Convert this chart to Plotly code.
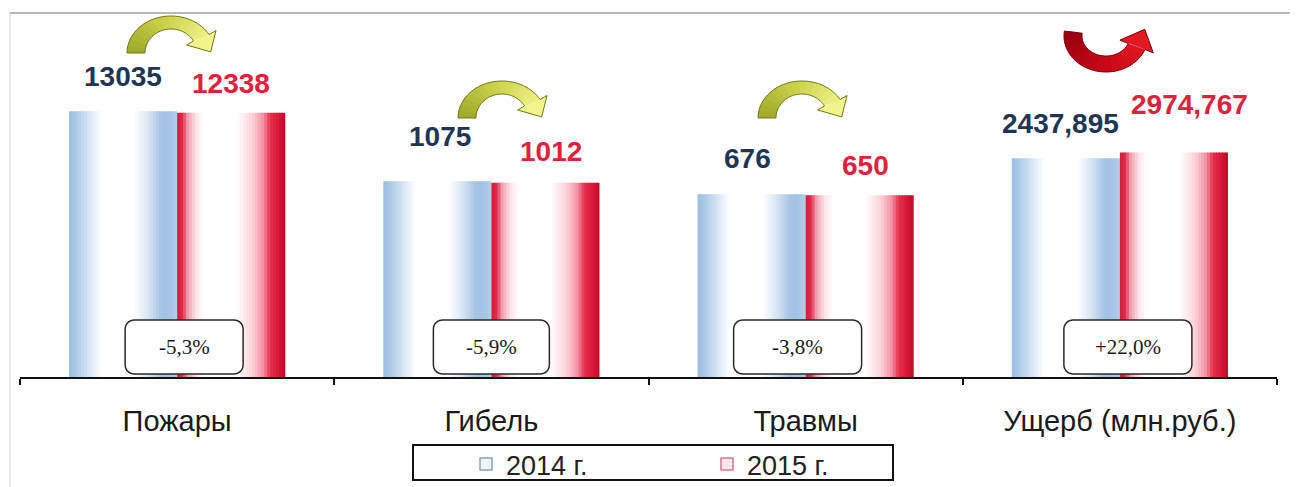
import plotly.graph_objects as go
import numpy as np

# --- data ---
categories = ["Пожары", "Гибель", "Травмы", "Ущерб (млн.руб.)"]
values_2014 = [13035, 1075, 676, 2437.895]
values_2015 = [12338, 1012, 650, 2974.767]
series_names = ["2014 г.", "2015 г."]

# --- page geometry ---
W, H = 1297, 487
L, R, T, B = 20, 20, 13, 110
PW, PH = W - L - R, H - T - B
PX_PER_DECADE = 64.6
BAR_W = 0.344
N_SLICES = 36

FONT = "Liberation Sans, Arial, sans-serif"
SERIF = "Liberation Serif, Times New Roman, serif"


def paper(px, py):
    return (px - L) / PW, (H - B - py) / PH


def cat_px(i):
    return L + (i + 0.5) * PW / len(categories)


def hex_rgb(h):
    h = h.lstrip("#")
    return [int(h[i:i + 2], 16) for i in (0, 2, 4)]


def blend(stops, t):
    for (p0, c0), (p1, c1) in zip(stops[:-1], stops[1:]):
        if p0 <= t <= p1:
            f = (t - p0) / (p1 - p0) if p1 > p0 else 0
            a, b = hex_rgb(c0), hex_rgb(c1)
            return "rgb({},{},{})".format(*[round(x + (y - x) * f) for x, y in zip(a, b)])
    return stops[-1][1]


# cylinder-like horizontal shading of each bar
stops_2014 = [(0.0, "#9cbde0"), (0.06, "#a9c8e7"), (0.2, "#dde9f6"), (0.3, "#ffffff"),
              (0.6, "#ffffff"), (0.74, "#d5e4f3"), (0.86, "#a3c3e4"), (0.95, "#a8c6e6"),
              (1.0, "#b6cfe9")]
stops_2015 = [(0.0, "#d01e3a"), (0.05, "#de2c4a"), (0.1, "#f2a2b2"), (0.18, "#fde6eb"),
              (0.25, "#ffffff"), (0.55, "#ffffff"), (0.7, "#fbd0d8"), (0.8, "#f48ea2"),
              (0.86, "#e6304c"), (0.95, "#d61434"), (1.0, "#bf0b27")]

fig = go.Figure()

sw = BAR_W / N_SLICES
for name, vals, stops, start in [(series_names[0], values_2014, stops_2014, -BAR_W),
                                 (series_names[1], values_2015, stops_2015, 0.0)]:
    for k in range(N_SLICES):
        fig.add_trace(go.Bar(
            x=categories, y=vals,
            width=sw * (1.3 if k < N_SLICES - 1 else 1.0),
            offset=start + k * sw,
            marker=dict(color=blend(stops, (k + 0.5) / N_SLICES), line=dict(width=0)),
            legendgroup=name, showlegend=False,
            hovertemplate="%{x}: %{y}<extra>" + name + "</extra>",
        ))

# legend-only entries
fig.add_trace(go.Bar(x=[None], y=[None], name=series_names[0], legendgroup=series_names[0],
                     marker=dict(color="#eef4fa", line=dict(color="#8fa4bf", width=1.5))))
fig.add_trace(go.Bar(x=[None], y=[None], name=series_names[1], legendgroup=series_names[1],
                     marker=dict(color="#fbe6ea", line=dict(color="#d9798c", width=1.5))))

# value labels
VAL_DX = [[0, 3, -4, -5], [0, 6, 6, 16]]
VAL_DY = [[35, 45, 36, 35], [29, 31, 30, 48]]
VAL_COLORS = ["#1f3556", "#e0203c"]
annotations = []
for s, vals in enumerate([values_2014, values_2015]):
    for i, v in enumerate(vals):
        annotations.append(dict(
            x=i + (-BAR_W / 2 if s == 0 else BAR_W / 2), y=np.log10(v),
            xref="x", yref="y", text=str(v).replace(".", ","), showarrow=False,
            xshift=VAL_DX[s][i], yshift=VAL_DY[s][i], xanchor="center", yanchor="middle",
            font=dict(family=FONT, size=28, color=VAL_COLORS[s], weight="bold"),
        ))

shapes = []


def path_str(pts):
    out = []
    for j, (px, py) in enumerate(pts):
        xf, yf = paper(px, py)
        out.append(("M" if j == 0 else "L") + f"{xf:.5f},{yf:.5f}")
    return " ".join(out) + " Z"


def rounded_rect(x0, y0, x1, y1, r):
    pts = []
    for cx, cy, a0 in [(x1 - r, y0 + r, -90), (x1 - r, y1 - r, 0), (x0 + r, y1 - r, 90), (x0 + r, y0 + r, 180)]:
        for a in np.linspace(a0, a0 + 90, 6):
            pts.append((cx + r * np.cos(np.radians(a)), cy + r * np.sin(np.radians(a))))
    return pts


# percentage change boxes
PCT_DX = [7, 0, -8, 8]
PCT_W = [118, 116, 128, 128]
for i, (a, b) in enumerate(zip(values_2014, values_2015)):
    pct = (b - a) / a * 100
    cx = cat_px(i) + PCT_DX[i]
    x0, x1, y0, y1 = cx - PCT_W[i] / 2, cx + PCT_W[i] / 2, 320, 374
    shapes.append(dict(type="path", xref="paper", yref="paper", path=path_str(rounded_rect(x0, y0, x1, y1, 9)),
                       fillcolor="white", line=dict(color="#2a2a2a", width=1.5)))
    xf, yf = paper(cx, (y0 + y1) / 2)
    annotations.append(dict(x=xf, y=yf, xref="paper", yref="paper", showarrow=False,
                            xanchor="center", yanchor="middle",
                            text=f"{pct:+.1f}%".replace(".", ","),
                            font=dict(family=SERIF, size=21, color="#1a1a1a")))


def arc_arrow(cx, cy, ao, bo, ai, bi, th0, th1, head_out, head_len, colors, outline, nseg=14):
    def pt(th, a, b):
        t = np.radians(th)
        return cx + a * np.cos(t), cy - b * np.sin(t)

    ths = np.linspace(th0, th1, nseg + 1)
    cols = [blend(colors, (j + 0.5) / (nseg + 1)) for j in range(nseg)]
    step = (th1 - th0) / nseg
    for j in range(nseg):
        t0, t1 = ths[j], ths[j + 1] + (0.3 * step if j < nseg - 1 else 0)
        sub = np.linspace(t0, t1, 5)
        pts = [pt(t, ao, bo) for t in sub] + [pt(t, ai, bi) for t in sub[::-1]]
        shapes.append(dict(type="path", xref="paper", yref="paper", path=path_str(pts),
                           fillcolor=cols[j], line=dict(width=0)))
    sign = np.sign(th1 - th0)
    t = np.radians(th1)
    am, bm = (ao + ai) / 2, (bo + bi) / 2
    d = np.array([-am * np.sin(t), -bm * np.cos(t)]) * sign
    d = d / np.linalg.norm(d)
    mid = np.array(pt(th1, am, bm))
    tip = tuple(mid + d * head_len)
    p_out = pt(th1, ao + head_out, bo + head_out)
    p_in = pt(th1, ai - head_out, bi - head_out)
    shapes.append(dict(type="path", xref="paper", yref="paper", path=path_str([p_out, tip, p_in]),
                       fillcolor=colors[-1][1], line=dict(width=0)))
    arc_o = [pt(x, ao, bo) for x in np.linspace(th0, th1, 40)]
    arc_i = [pt(x, ai, bi) for x in np.linspace(th1, th0, 40)]
    shapes.append(dict(type="path", xref="paper", yref="paper",
                       path=path_str(arc_o + [p_out, tip, p_in] + arc_i),
                       fillcolor="rgba(0,0,0,0)", line=dict(color=outline, width=1)))


yellow = [(0.0, "#9ea82a"), (0.45, "#c6cf45"), (1.0, "#f0f48a")]
red = [(0.0, "#98000f"), (0.6, "#cc0a18"), (1.0, "#e41a22")]
for fx, fy in [(127, 53), (458, 118), (758, 118)]:
    arc_arrow(fx + 44, fy, 44, 37, 26, 24, 180, 30, 8, 17, yellow, "#6f7818")
arc_arrow(1106, 36, 42, 36, 24, 20, 172, 338, 9, 19, red, "#7a000c")

# frame lines and legend box
x_a, _ = paper(10, 0)
x_b, _ = paper(1290, 0)
_, y_bot = paper(0, 487)
shapes.append(dict(type="line", xref="paper", yref="paper", x0=x_a, x1=x_b, y0=1, y1=1,
                   line=dict(color="#a0a0a0", width=1.5)))
shapes.append(dict(type="line", xref="paper", yref="paper", x0=x_a, x1=x_a, y0=1, y1=y_bot,
                   line=dict(color="#cccccc", width=1)))
lx0, ly0 = paper(413, 445)
lx1, ly1 = paper(893, 480)
shapes.append(dict(type="rect", xref="paper", yref="paper", x0=lx0, x1=lx1, y0=ly1, y1=ly0,
                   line=dict(color="#111111", width=2), fillcolor="rgba(0,0,0,0)"))

leg_x, leg_y = paper(466, 440)

fig.update_layout(
    width=W, height=H,
    margin=dict(l=L, r=R, t=T, b=B, autoexpand=False),
    paper_bgcolor="white", plot_bgcolor="white",
    barmode="overlay",
    showlegend=True,
    legend=dict(orientation="h", x=leg_x, y=leg_y, xanchor="left", yanchor="top",
                entrywidth=196, font=dict(family=FONT, size=27, color="#222222"),
                bgcolor="rgba(0,0,0,0)", borderwidth=0),
    xaxis=dict(type="category", range=[-0.5, 3.5], showline=True, linecolor="#111111", linewidth=2,
               ticks="outside", tickson="boundaries", ticklen=6, tickcolor="#111111", tickwidth=1.5,
               ticklabelstandoff=17, automargin=False,
               tickfont=dict(family=FONT, size=29, color="#1a1a1a"), showgrid=False, fixedrange=True),
    yaxis=dict(type="log", range=[0, PH / PX_PER_DECADE], visible=False, showgrid=False, fixedrange=True),
    annotations=annotations,
    shapes=shapes,
)

fig.write_html("out.html", config={"displayModeBar": False},
               post_script="document.body.style.margin='0';")
